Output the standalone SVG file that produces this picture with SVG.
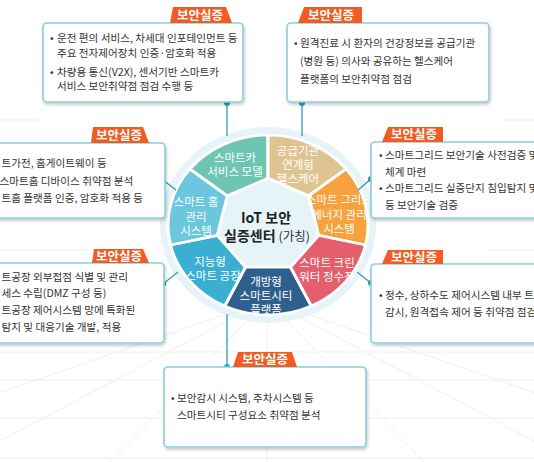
<svg xmlns="http://www.w3.org/2000/svg" width="534" height="462" viewBox="0 0 534 462">
<defs>
<style>
.t{font-family:"Noto Sans CJK KR","Noto Sans",sans-serif;font-size:10.6px;fill:#333}
.seg{stroke:#fff;stroke-width:3;stroke-linejoin:round}
.st{font-family:"Noto Sans CJK KR","Noto Sans",sans-serif;font-size:11.5px;fill:#fff;text-anchor:middle}
.box{fill:#fff;stroke:#86cfdf;stroke-width:1.6}
.tag{fill:#f25b22}
.tt{font-family:"Noto Sans CJK KR","Noto Sans",sans-serif;font-size:12.5px;font-weight:bold;fill:#fff;text-anchor:middle}
.cn{stroke:#2e9bb5;stroke-width:1.3;fill:none}
.dot{fill:#2e9bb5}
.grid{stroke:#efefef;stroke-width:1;fill:none}
</style>
<filter id="sh" x="-10%" y="-10%" width="120%" height="130%">
<feDropShadow dx="1" dy="2" stdDeviation="1.5" flood-color="#000" flood-opacity="0.22"/>
</filter>
</defs>
<rect width="534" height="462" fill="#fff"/>
<g id="background">
<path class="grid" d="M0 352 L534 352 M0 380 L534 380 M0 418 L534 418 M0 458 L534 458"/>
<path class="grid" d="M267 300 L-200 462 M267 300 L-40 462 M267 300 L110 462 M267 300 L267 462 M267 300 L424 462 M267 300 L574 462 M267 300 L734 462"/>
<path class="grid" d="M0 250 L130 250 M0 120 L40 120 M500 120 L534 120 M490 250 L534 250"/>
</g>
<g id="wheel">
<ellipse cx="268" cy="225" rx="108" ry="98" fill="#e6f3f8"/>
<g transform="translate(268,225) scale(1,0.9)">
<path id="seg-city" class="seg" fill="#2f5f8c" d="M22.56 46.85 L43.39 90.10 A100 100 0 0 1 -43.39 90.10 L-22.56 46.85 Z"/>
<path id="seg-factory" class="seg" fill="#3aafd2" d="M-22.56 46.85 L-43.39 90.10 A100 100 0 0 1 -97.49 22.25 L-50.70 11.57 Z"/>
<path id="seg-home" class="seg" fill="#6cc6dd" d="M-50.70 11.57 L-97.49 22.25 A100 100 0 0 1 -78.18 -62.35 L-40.66 -32.42 Z"/>
<path id="seg-car" class="seg" fill="#6ec5b1" d="M-40.66 -32.42 L-78.18 -62.35 A100 100 0 0 1 0 -100 L0 -52 Z"/>
<path id="seg-health" class="seg" fill="#dfc391" d="M0 -52 L0 -100 A100 100 0 0 1 78.18 -62.35 L40.66 -32.42 Z"/>
<path id="seg-grid" class="seg" fill="#f7a23e" d="M40.66 -32.42 L78.18 -62.35 A100 100 0 0 1 97.49 22.25 L50.70 11.57 Z"/>
<path id="seg-water" class="seg" fill="#e45e6b" d="M50.70 11.57 L97.49 22.25 A100 100 0 0 1 43.39 90.10 L22.56 46.85 Z"/>
</g>
<text class="st"><tspan x="235" y="162">스마트카</tspan><tspan x="235" y="176">서비스 모델</tspan></text>
<text class="st"><tspan x="298" y="155">공급기관</tspan><tspan x="298" y="169">연계형</tspan><tspan x="298" y="183">헬스케어</tspan></text>
<text class="st"><tspan x="339" y="204">스마트 그리드</tspan><tspan x="339" y="219">에너지 관리</tspan><tspan x="339" y="233">시스템</tspan></text>
<text class="st"><tspan x="327" y="267">스마트 크린</tspan><tspan x="327" y="281">워터 정수장</tspan></text>
<text class="st"><tspan x="266" y="286">개방형</tspan><tspan x="266" y="300">스마트시티</tspan><tspan x="266" y="314">플랫폼</tspan></text>
<text class="st"><tspan x="210" y="266">지능형</tspan><tspan x="213" y="280">스마트 공장</tspan></text>
<text class="st"><tspan x="196" y="206">스마트 홈</tspan><tspan x="196" y="221">관리</tspan><tspan x="196" y="235">시스템</tspan></text>
<text font-family="'Noto Sans CJK KR','Noto Sans',sans-serif" font-size="14" font-weight="bold" fill="#222" text-anchor="middle"><tspan x="266" y="223">IoT 보안</tspan><tspan x="267" y="241">실증센터<tspan font-weight="normal" font-size="12.5" fill="#333"> (가칭)</tspan></tspan></text>
</g>
<g id="connectors">
<path class="cn" d="M227 103 L227 136"/>
<circle class="dot" cx="227" cy="103" r="3"/>
<path class="cn" d="M302 103 L302 136"/>
<circle class="dot" cx="302" cy="103" r="3"/>
<path class="cn" d="M163 180 L176 190"/>
<circle class="dot" cx="163" cy="180" r="3"/>
<path class="cn" d="M371 179 L358 190"/>
<circle class="dot" cx="371" cy="179" r="3"/>
<path class="cn" d="M163 284 L178 272"/>
<circle class="dot" cx="163" cy="284" r="3"/>
<path class="cn" d="M371 283 L357 272"/>
<circle class="dot" cx="371" cy="283" r="3"/>
<path class="cn" d="M227 367 L227 314"/>
<circle class="dot" cx="227" cy="367" r="3"/>
</g>
<g id="box-car">
<rect class="box" x="43" y="23" width="200" height="79" rx="4" filter="url(#sh)"/>
<polygon class="tag" points="170,23 173,7 226,7 232,23"/>
<text class="tt" x="200" y="19.5">보안실증</text>
<text class="t"><tspan x="50" y="41.5">•</tspan><tspan x="57" y="41.5">운전 편의 서비스, 차세대 인포테인먼트 등</tspan><tspan x="57" y="56.5">주요 전자제어장치 인증·암호화 적용</tspan><tspan x="50" y="75.5">•</tspan><tspan x="57" y="75.5">차량용 통신(V2X), 센서기반 스마트카</tspan><tspan x="57" y="89.5">서비스 보안취약점 점검 수행 등</tspan></text>
</g>
<g id="box-health">
<rect class="box" x="287" y="23" width="202" height="79" rx="4" filter="url(#sh)"/>
<polygon class="tag" points="298,23 304,7 362,7 362,23"/>
<text class="tt" x="331" y="19.5">보안실증</text>
<text class="t"><tspan x="294" y="46.5">•</tspan><tspan x="300" y="46.5">원격진료 시 환자의 건강정보를 공급기관</tspan><tspan x="300" y="64.5">(병원 등) 의사와 공유하는 헬스케어</tspan><tspan x="300" y="82.5">플랫폼의 보안취약점 점검</tspan></text>
</g>
<g id="box-home">
<rect class="box" x="-10" y="143" width="175" height="75" rx="4" filter="url(#sh)"/>
<polygon class="tag" points="91,143 93,127 143,127 149,143"/>
<text class="tt" x="119" y="139.5">보안실증</text>
<text class="t"><tspan x="1.5" y="166.5">트가전, 홈게이트웨이 등</tspan><tspan x="-0.5" y="184.5">스마트홈 디바이스 취약점 분석</tspan><tspan x="1.5" y="201.5">트홈 플랫폼 인증, 암호화 적용 등</tspan></text>
</g>
<g id="box-grid">
<rect class="box" x="371" y="142" width="175" height="76" rx="4" filter="url(#sh)"/>
<polygon class="tag" points="382,142 388,127 443,127 443,142"/>
<text class="tt" x="414" y="139">보안실증</text>
<text class="t"><tspan x="379" y="158.5">•</tspan><tspan x="385" y="158.5">스마트그리드 보안기술 사전검증 및</tspan><tspan x="385" y="175.5">체계 마련</tspan><tspan x="379" y="191.5">•</tspan><tspan x="385" y="191.5">스마트그리드 실증단지 침입탐지 및</tspan><tspan x="385" y="208.5">등 보안기술 검증</tspan></text>
</g>
<g id="box-factory">
<rect class="box" x="-10" y="263" width="174" height="80" rx="4" filter="url(#sh)"/>
<polygon class="tag" points="92,263 94,249 143,249 149,263"/>
<text class="tt" x="119" y="260.5">보안실증</text>
<text class="t"><tspan x="1.5" y="280.5">트공장 외부접점 식별 및 관리</tspan><tspan x="1.5" y="297">세스 수립(DMZ 구성 등)</tspan><tspan x="1.5" y="313.5">트공장 제어시스템 망에 특화된</tspan><tspan x="1.5" y="330.5">탐지 및 대응기술 개발, 적용</tspan></text>
</g>
<g id="box-water">
<rect class="box" x="371" y="264" width="175" height="79" rx="4" filter="url(#sh)"/>
<polygon class="tag" points="382,264 388,250 443,250 443,264"/>
<text class="tt" x="414" y="261.5">보안실증</text>
<text class="t"><tspan x="379" y="298.5">•</tspan><tspan x="385" y="298.5">정수, 상하수도 제어시스템 내부 트</tspan><tspan x="385" y="315.5">감시, 원격접속 제어 등 취약점 점검</tspan></text>
</g>
<g id="box-city">
<rect class="box" x="164" y="367" width="202" height="80" rx="4" filter="url(#sh)"/>
<polygon class="tag" points="233,367 238,352 292,352 297,367"/>
<text class="tt" x="265" y="364">보안실증</text>
<text class="t"><tspan x="171" y="401.5">•</tspan><tspan x="177" y="401.5">보안감시 시스템, 주차시스템 등</tspan><tspan x="177" y="418.5">스마트시티 구성요소 취약점 분석</tspan></text>
</g>
</svg>
